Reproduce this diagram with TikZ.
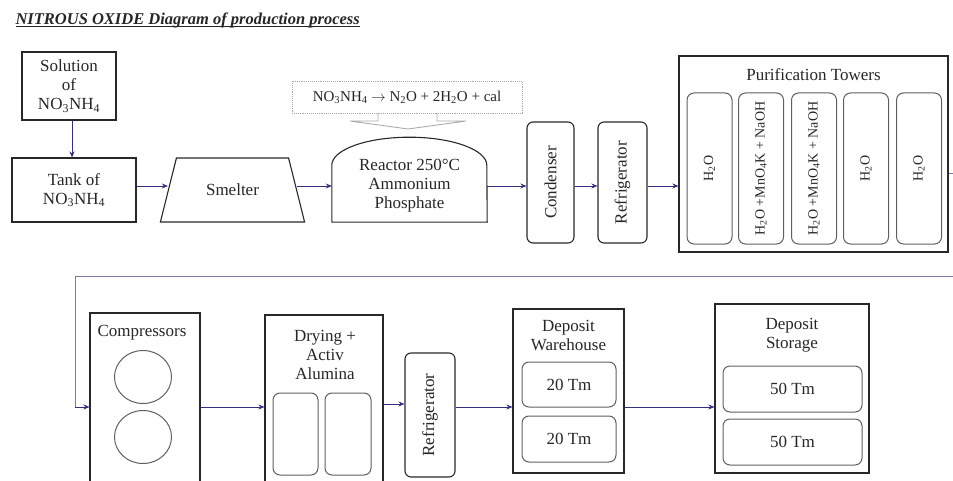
\documentclass[tikz,border=0pt]{standalone}
\usepackage{fontspec}
\usepackage{graphicx}
\setmainfont{Liberation Serif}
\usetikzlibrary{shapes.geometric,arrows.meta}

\definecolor{flow}{RGB}{52,48,128}
\definecolor{loopline}{RGB}{122,120,168}
\definecolor{edge}{RGB}{40,40,40}
\definecolor{inner}{RGB}{95,95,95}
\definecolor{note}{RGB}{170,170,170}

% underline that sits close under the baseline
\newcommand\ulined[1]{\setbox0\hbox{#1}\rlap{\rule[-2pt]{\wd0}{1pt}}\box0}

\tikzset{
  txt/.style={font=\fontsize{17}{19}\selectfont, text=black!85, align=center},
  unit/.style={txt, draw=edge, line width=1.1pt, inner sep=2pt},
  vessel/.style={unit, rounded corners=6pt},
  cell/.style={txt, draw=inner, line width=1pt, rounded corners=7pt, inner sep=2pt},
  flowline/.style={draw=flow, line width=0.9pt, -{Stealth[length=6pt,width=5pt]}},
}

\begin{document}
\begin{tikzpicture}[x=1pt, y=-1pt]
    \clip (0,0) rectangle (953,481);
    \useasboundingbox (0,0) rectangle (953,481);
    \coordinate (row1) at (0,186);
    \coordinate (row2) at (0,407);

    \node [anchor=base west, font=\fontsize{16.5}{18}\selectfont\bfseries\itshape, text=black!85] (title) at (12,25)
        {\ulined{NITROUS OXIDE Diagram of production process}};

    % first line of the process
    \node [unit, minimum width=94pt, minimum height=68pt] (sol) at (69,86) {Solution\\of\\NO\textsubscript{3}NH\textsubscript{4}};
    \node [unit, minimum width=124pt, minimum height=64pt] (tank) at (74,190) {Tank of\\NO\textsubscript{3}NH\textsubscript{4}};
    \node [unit, trapezium, trapezium angle=63, trapezium stretches=true, minimum width=145pt, minimum height=64pt] (smelter) at (232.5,190) {Smelter};
    \node [txt, minimum width=155pt, minimum height=72pt] (reactor) at (409.5,186) {Reactor 250°C\\Ammonium\\Phosphate};
    \draw [edge, line width=1.1pt] (reactor.south west) -- ++(0,-57) arc [start angle=180, end angle=360, x radius=77.5, y radius=28] -- (reactor.south east) -- cycle;
    \node [txt, draw=note, densely dotted, line width=0.9pt, minimum width=230pt, minimum height=32pt, font=\fontsize{15}{17}\selectfont] (eqn) at (407,97)
        {NO\textsubscript{3}NH\textsubscript{4} $\rightarrow$ N\textsubscript{2}O + 2H\textsubscript{2}O + cal};
    \draw [note, line width=0.9pt] (378,113) -- (378,121) -- (350,121) -- (408,129) -- (466,121) -- (437,121) -- (437,113);
    \node [vessel, minimum width=47pt, minimum height=121pt] (cond) at (550.5,182.5) {\rotatebox{90}{Condenser}};
    \node [vessel, minimum width=49pt, minimum height=121pt] (fridge) at (622.5,182.5) {\rotatebox{90}{Refrigerator}};

    \node [unit, minimum width=269pt, minimum height=196pt] (purif) at (813.5,154) {};
    \node [txt] (purifcap) at (813.5,75) {Purification Towers};
    \node [cell, minimum width=45pt, minimum height=151pt, font=\fontsize{14}{16}\selectfont] (t1) at (709.5,168.5) {\rotatebox{90}{H\textsubscript{2}O}};
    \node [cell, minimum width=45pt, minimum height=151pt, font=\fontsize{14}{16}\selectfont] (t2) at (761,168.5) {\rotatebox{90}{H\textsubscript{2}O +MnO\textsubscript{4}K + NaOH}};
    \node [cell, minimum width=45pt, minimum height=151pt, font=\fontsize{14}{16}\selectfont] (t3) at (814,168.5) {\rotatebox{90}{H\textsubscript{2}O +MnO\textsubscript{4}K + NaOH}};
    \node [cell, minimum width=45pt, minimum height=151pt, font=\fontsize{14}{16}\selectfont] (t4) at (866,168.5) {\rotatebox{90}{H\textsubscript{2}O}};
    \node [cell, minimum width=45pt, minimum height=151pt, font=\fontsize{14}{16}\selectfont] (t5) at (919,168.5) {\rotatebox{90}{H\textsubscript{2}O}};

    \draw [flowline] (sol.south -| 72,0) -- (tank.north -| 72,0);
    \draw [flowline] (tank.east |- row1) -- (smelter.west |- row1);
    \draw [flowline] (smelter.east |- row1) -- (reactor.west |- row1);
    \draw [flowline] (reactor.east |- row1) -- (cond.west |- row1);
    \draw [flowline] (cond.east |- row1) -- (fridge.west |- row1);
    \draw [flowline] (fridge.east |- row1) -- (purif.west |- row1);

    % second line of the process
    \node [unit, minimum width=110pt, minimum height=188pt] (comp) at (145,407) {};
    \node [txt] (compcap) at (142,333) {Compressors};
    \node [ellipse, draw=inner, line width=1pt, minimum width=57pt, minimum height=53pt] (c1) at (143,377) {};
    \node [ellipse, draw=inner, line width=1pt, minimum width=57pt, minimum height=53pt] (c2) at (143,437) {};

    \node [unit, minimum width=118pt, minimum height=184pt] (dry) at (324,407) {};
    \node [txt] (drycap) at (325,355) {Drying +\\Activ\\Alumina};
    \node [cell, minimum width=45pt, minimum height=82pt] (d1) at (295.5,434) {};
    \node [cell, minimum width=46pt, minimum height=82pt] (d2) at (348,434) {};

    \node [vessel, minimum width=50pt, minimum height=124pt] (fridge2) at (430,415) {\rotatebox{90}{Refrigerator}};

    \node [unit, minimum width=111pt, minimum height=164pt] (ware) at (568.5,391) {};
    \node [txt] (warecap) at (568.5,335) {Deposit\\Warehouse};
    \node [cell, minimum width=94pt, minimum height=45pt] (w1) at (569,384.5) {20 Tm};
    \node [cell, minimum width=94pt, minimum height=46pt] (w2) at (569,439) {20 Tm};

    \node [unit, minimum width=154pt, minimum height=169pt] (store) at (792,388.5) {};
    \node [txt] (storecap) at (792,335) {Deposit\\Storage};
    \node [cell, minimum width=139pt, minimum height=46pt] (s1) at (792.5,389) {50 Tm};
    \node [cell, minimum width=139pt, minimum height=46pt] (s2) at (792.5,442) {50 Tm};

    % return line from the towers to the compressors
    \coordinate (turn) at (75,276);
    \draw [draw=loopline, line width=0.9pt] ([yshift=-19pt]purif.east) -- ++(14,0) |- (turn) -- (turn |- row2);
    \draw [flowline] (turn |- row2) -- (comp.west |- row2);

    \draw [flowline] (comp.east |- row2) -- (dry.west |- row2);
    \draw [flowline] (dry.east |- 0,404) -- (fridge2.west |- 0,404);
    \draw [flowline] (fridge2.east |- row2) -- (ware.west |- row2);
    \draw [flowline] (ware.east |- row2) -- (store.west |- row2);
\end{tikzpicture}
\end{document}
